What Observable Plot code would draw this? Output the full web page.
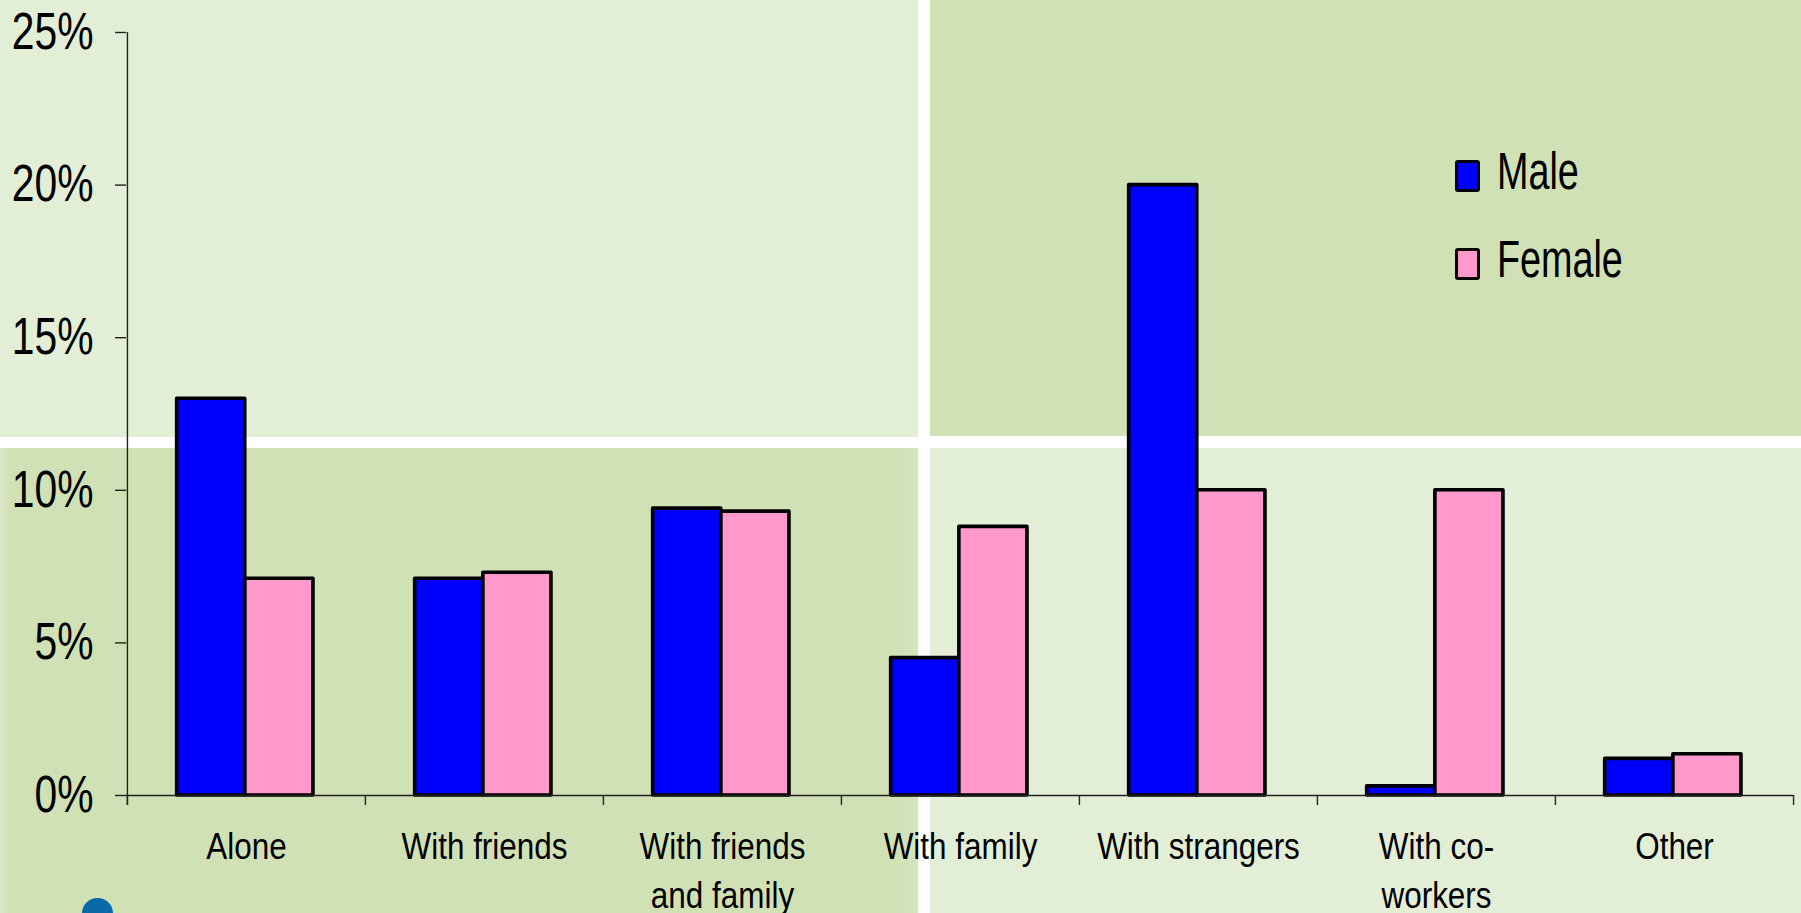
<!DOCTYPE html>
<html>
<head>
<meta charset="utf-8">
<script src="https://cdn.jsdelivr.net/npm/d3@7"></script>
<script src="https://cdn.jsdelivr.net/npm/@observablehq/plot@0.6"></script>
<style>
  html, body { margin: 0; padding: 0; overflow: hidden; background: #ffffff; }
  #wrap { position: relative; width: 1801px; height: 913px; font-family: "Liberation Sans", Arial, sans-serif; }
  .q { position: absolute; }
  #chart { position: absolute; left: 0; top: 0; }
  #legend { position: absolute; left: 1455px; top: 150px; }
  .item { position: relative; height: 88px; }
  .sw { position: absolute; left: 0; top: 10px; width: 19px; height: 26px; border: 3px solid #000; border-radius: 3px; }
  .lab { position: absolute; left: 42px; top: -8px; font-size: 51px; color: #000; white-space: nowrap; transform: scaleX(0.74); transform-origin: left center; }
  #logo { position: absolute; left: 82px; top: 898px; width: 31px; height: 30px; border-radius: 50% 50% 40% 40%; background: #0a6aa8; }
</style>
</head>
<body>
<div id="wrap">
  <div class="q" style="left:0;top:0;width:918px;height:437px;background:#e3eed7"></div>
  <div class="q" style="left:930px;top:0;width:871px;height:436px;background:#d1e1b6"></div>
  <div class="q" style="left:0;top:448px;width:918px;height:465px;background:linear-gradient(to right,#dae6c5 0px,#d1e1b6 12px,#d1e1b6 895px,#d6e4bd 918px)"></div>
  <div class="q" style="left:930px;top:448px;width:871px;height:465px;background:#e3eed7"></div>
  <div id="logo"></div>
  <div id="chart"></div>
  <div id="legend"></div>
</div>
<script>
// ---- data ----
const categories = ["Alone", "With friends", "With friends and family", "With family", "With strangers", "With co-workers", "Other"];
const categoryLabels = ["Alone", "With friends", "With friends\nand family", "With family", "With strangers", "With co-\nworkers", "Other"];
const maleValues = [13.0, 7.1, 9.4, 4.5, 20.0, 0.3, 1.2];
const femaleValues = [7.1, 7.3, 9.3, 8.8, 10.0, 10.0, 1.35];
const seriesNames = ["Male", "Female"];
const seriesColors = ["#0000ff", "#ff99cc"];
const yTicks = [0, 5, 10, 15, 20, 25];

// ---- layout ----
const W = 1801, H = 913;
const mL = 126, mR = 8, mT = 32, mB = 118;
const bw = (W - mL - mR) / categories.length;
const barW = bw * 0.2865;
const leftGap = bw * 0.2085;

const labelOf = new Map(categories.map((c, i) => [c, categoryLabels[i]]));
const maleRows = categories.map((c, i) => ({category: c, value: maleValues[i]}));
const femaleRows = categories.map((c, i) => ({category: c, value: femaleValues[i]}));

const fontFamily = '"Liberation Sans", Arial, sans-serif';

const chart = Plot.plot({
  width: W,
  height: H,
  marginLeft: mL,
  marginRight: mR,
  marginTop: mT,
  marginBottom: mB,
  style: {background: "transparent", fontFamily, color: "#000", overflow: "visible"},
  x: {domain: categories, padding: 0, axis: null, label: null},
  y: {domain: [0, 25], axis: null, label: null},
  marks: [
    Plot.barY(maleRows, {x: "category", y: "value", fill: seriesColors[0], stroke: "#000", strokeWidth: 3.6, strokeLinejoin: "round",
      insetLeft: leftGap, insetRight: bw - leftGap - barW}),
    Plot.barY(femaleRows, {x: "category", y: "value", fill: seriesColors[1], stroke: "#000", strokeWidth: 3.6, strokeLinejoin: "round",
      insetLeft: leftGap + barW, insetRight: bw - leftGap - 2 * barW}),
    Plot.ruleY([0], {stroke: "#222", strokeWidth: 1.4}),
    Plot.ruleX([categories[0]], {dx: -bw / 2, y1: 25, y2: 0, insetBottom: -10, stroke: "#222", strokeWidth: 1.4}),
    Plot.ruleX(categories, {dx: -bw / 2, y1: 0, y2: 0, insetBottom: -10, stroke: "#222", strokeWidth: 1.4}),
    Plot.ruleX([categories[categories.length - 1]], {dx: bw / 2, y1: 0, y2: 0, insetBottom: -10, stroke: "#222", strokeWidth: 1.4}),
    Plot.axisY({ticks: yTicks, label: null, tickSize: 11, tickPadding: 22, tickFormat: d => d + "%", fontSize: 51, stroke: "#222", strokeWidth: 1.4, fill: "#000", className: "yax"}),
    Plot.axisX({label: null, tickSize: 0, tickPadding: 28, fontSize: 37, lineHeight: 1.34, tickFormat: d => labelOf.get(d), fill: "#000", className: "xax"})
  ]
});
document.getElementById("chart").appendChild(chart);

// condensed look (the reference uses a narrow face): squeeze glyphs horizontally about each text's own anchor
function condense(selector, k) {
  chart.querySelectorAll(selector).forEach(t => {
    const tr = t.getAttribute("transform");
    if (tr) t.setAttribute("transform", tr + ` scale(${k},1)`);
  });
}
condense(".yax text", 0.8);
condense(".xax text", 0.85);

// ---- legend ----
const legend = document.getElementById("legend");
seriesNames.forEach((name, i) => {
  const item = document.createElement("div");
  item.className = "item";
  const sw = document.createElement("div");
  sw.className = "sw";
  sw.style.background = seriesColors[i];
  const lab = document.createElement("div");
  lab.className = "lab";
  lab.textContent = name;
  item.appendChild(sw);
  item.appendChild(lab);
  legend.appendChild(item);
});
</script>
</body>
</html>
